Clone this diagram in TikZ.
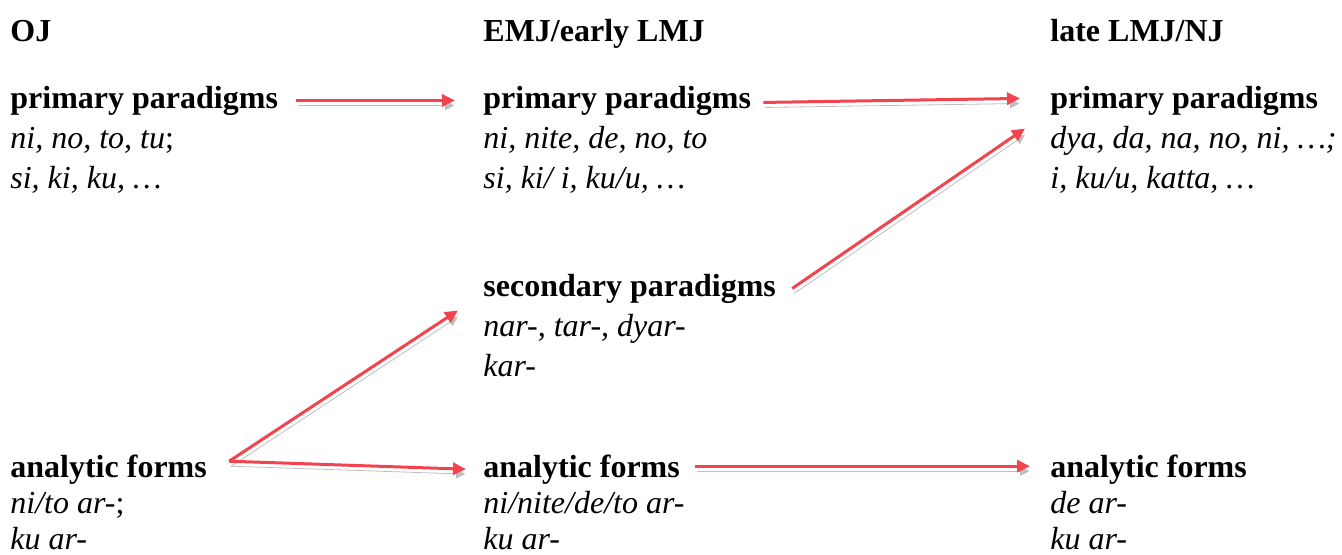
\documentclass[tikz,border=0pt]{standalone}
\usepackage{fontspec}
\setmainfont{Liberation Serif}
\usetikzlibrary{arrows.meta}
\definecolor{arrowred}{HTML}{F2434F}
\definecolor{shadowgray}{HTML}{BEBEBE}

\begin{document}
\begin{tikzpicture}[
        x=0.5pt, y=-0.5pt,
        font=\fontsize{16}{20}\selectfont,
        period/.style={inner sep=0pt, anchor=base west, font=\fontsize{16}{20}\selectfont\bfseries},
        heading/.style={inner sep=0pt, anchor=base west, font=\fontsize{16}{20}\selectfont\bfseries},
        forms/.style={inner sep=0pt, anchor=base west, align=left, font=\fontsize{16}{20}\selectfont\itshape},
        shortforms/.style={forms, font=\fontsize{16}{18}\selectfont\itshape},
        arrow/.style={
            -{Triangle[length=6.5pt, width=6pt]}, line width=1.5pt, draw=arrowred,
            preaction={draw=shadowgray, -{Triangle[length=6.5pt, width=6pt]},
                transform canvas={xshift=1pt, yshift=-2.5pt}}
        }
    ]
        \useasboundingbox (0,0) rectangle (1342,554);

        \node[period] (oj) at (10,41) {OJ};
        \node[period] (emj) at (483,41) {EMJ/early LMJ};
        \node[period] (nj) at (1050,41) {late LMJ/NJ};

        \node[heading] (ppoj) at (10,108) {primary paradigms};
        \node[forms] (ppojforms) at ([yshift=-40pt]ppoj.base west) {ni, no, to, tu\textup{;}\\si, ki, ku, …};
        \node[heading] (ppemj) at (483,108) {primary paradigms};
        \node[forms] (ppemjforms) at ([yshift=-40pt]ppemj.base west) {ni, nite, de, no, to\\si, ki/ i, ku/u, …};
        \node[heading] (ppnj) at (1050,108) {primary paradigms};
        \node[forms] (ppnjforms) at ([yshift=-40pt]ppnj.base west) {dya, da, na, no, ni, …;\\i, ku/u, katta, …};

        \node[heading] (spemj) at (483,296) {secondary paradigms};
        \node[forms] (spemjforms) at ([yshift=-40pt]spemj.base west) {nar-, tar-, dyar-\\kar-};

        \node[heading] (afoj) at (10,477) {analytic forms};
        \node[shortforms] (afojforms) at ([yshift=-36pt]afoj.base west) {ni/to ar-\textup{;}\\ku ar-};
        \node[heading] (afemj) at (483,477) {analytic forms};
        \node[shortforms] (afemjforms) at ([yshift=-36pt]afemj.base west) {ni/nite/de/to ar-\\ku ar-};
        \node[heading] (afnj) at (1050,477) {analytic forms};
        \node[shortforms] (afnjforms) at ([yshift=-36pt]afnj.base west) {de ar-\\ku ar-};

        \coordinate (fork) at ([xshift=11pt, yshift=4pt]afoj.east);

        \draw[arrow] ([xshift=9pt]ppoj.east) -- ([xshift=-14pt]ppemj.west);
        \draw[arrow] ([xshift=6pt, yshift=-1pt]ppemj.east) -- ([xshift=-15pt, yshift=1pt]ppnj.west);
        \draw[arrow] ([xshift=8pt]spemj.east) -- ([xshift=-12.5pt, yshift=-6.5pt]ppnj.south west);
        \draw[arrow] (fork) -- ([xshift=-12.5pt, yshift=-3.5pt]spemj.south west);
        \draw[arrow] (fork) -- ([xshift=-8.5pt]afemj.west);
        \draw[arrow] ([xshift=7.5pt, yshift=1.5pt]afemj.east) -- ([xshift=-10pt, yshift=1.5pt]afnj.west);
    \end{tikzpicture}
\end{document}
